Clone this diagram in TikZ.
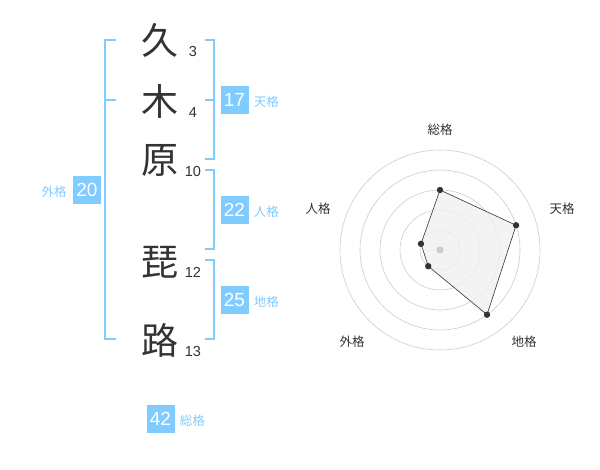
\documentclass[tikz,border=0pt]{standalone}
\usepackage{fontspec}
\setmainfont{Liberation Sans}
\newfontfamily\jp{Noto Sans CJK JP}
\usetikzlibrary{positioning}
\definecolor{kakublue}{RGB}{128,204,255}
\definecolor{ink}{RGB}{51,51,51}
\tikzset{
  kanji/.style={text=ink,inner sep=0,font=\jp\fontsize{37}{37}\selectfont},
  strokes/.style={text=ink,inner sep=0,font=\fontsize{14.5}{14.5}\selectfont},
  kakubox/.style={fill=kakublue,text=white,minimum size=28pt,inner sep=0,font=\fontsize{19}{19}\selectfont},
  kakulabel/.style={text=kakublue,inner sep=0,font=\jp\fontsize{12.5}{12.5}\selectfont},
  bracket/.style={kakublue,line width=1.8pt},
  ring/.style={black!20,line width=0.6pt},
  axislabel/.style={text=ink,inner sep=0,font=\jp\fontsize{12.5}{12.5}\selectfont}
}

\begin{document}
\begin{tikzpicture}[x=1pt,y=1pt]
\useasboundingbox (0,0) rectangle (600,-470);
% name
\node[kanji] (k1) at (160,-40) {久};
\node[kanji] (k2) at (160,-101) {木};
\node[kanji] (k3) at (160,-160) {原};
\node[kanji] (k4) at (160,-262) {琵};
\node[kanji] (k5) at (160,-340) {路};
\node[strokes] (s1) at (193,-52) {3};
\node[strokes] (s2) at (193,-113) {4};
\node[strokes] (s3) at (193,-172) {10};
\node[strokes] (s4) at (193,-272) {12};
\node[strokes] (s5) at (193,-352) {13};
% brackets
\draw[bracket] (116,-40) -| (105,-339) -- (116,-339);
\draw[bracket] (105,-100) -- (116,-100);
\draw[bracket] (205,-40) -| (214,-159) -- (205,-159);
\draw[bracket] (205,-100) -- (214,-100);
\draw[bracket] (205,-170) -| (214,-249) -- (205,-249);
\draw[bracket] (205,-260) -| (214,-339) -- (205,-339);
% scores
\node[kakubox] (gai) at (87,-190) {20};
\node[kakulabel,left=6pt of gai,yshift=-2pt] (gailabel) {外格};
\node[kakubox] (ten) at (234.5,-100) {17};
\node[kakulabel,right=5pt of ten,yshift=-2pt] (tenlabel) {天格};
\node[kakubox] (jin) at (234.5,-210) {22};
\node[kakulabel,right=5pt of jin,yshift=-2pt] (jinlabel) {人格};
\node[kakubox] (chi) at (234.5,-300) {25};
\node[kakulabel,right=5pt of chi,yshift=-2pt] (chilabel) {地格};
\node[kakubox] (sou) at (160.5,-419) {42};
\node[kakulabel,right=5pt of sou,yshift=-2pt] (soulabel) {総格};
% radar
\coordinate (O) at (440,-250);
\foreach \r in {20,40,...,100}
  \draw[ring] (O) circle (\r pt);
\path (O) ++(90:60) coordinate (psou)
      (O) ++(18:80) coordinate (pten)
      (O) ++(-54:80) coordinate (pchi)
      (O) ++(-126:20) coordinate (pgai)
      (O) ++(162:20) coordinate (pjin);
\filldraw[fill=black!6,fill opacity=0.8,draw=ink,line width=0.6pt]
  (psou) -- (pten) -- (pchi) -- (pgai) -- (pjin) -- cycle;
\fill[black!20] (O) circle (3.5pt);
\foreach \p in {psou,pten,pchi,pgai,pjin}
  \fill[ink] (\p) circle (3.2pt);
\node[axislabel] (asou) at (440,-130) {総格};
\node[axislabel] (aten) at (562,-209) {天格};
\node[axislabel] (achi) at (524,-342) {地格};
\node[axislabel] (agai) at (352,-342) {外格};
\node[axislabel] (ajin) at (318,-209) {人格};
\end{tikzpicture}
\end{document}
